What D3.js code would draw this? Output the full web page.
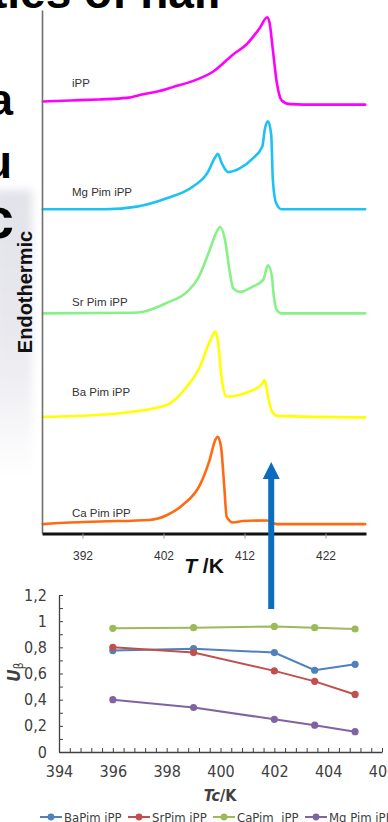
<!DOCTYPE html>
<html><head><meta charset="utf-8">
<script src="https://cdn.jsdelivr.net/npm/d3@7"></script>
<style>html,body{margin:0;padding:0;background:#fff;} svg{display:block;}</style>
</head><body>
<svg id="c" width="388" height="822"></svg>
<script>
// ---------- DSC curves (T in K, heat-flow signal in a.u.) ----------
const samples = ["iPP", "Mg Pim iPP", "Sr Pim iPP", "Ba Pim iPP", "Ca Pim iPP"];
const dscColors = ["#ff00ff", "#1cc3f2", "#86f286", "#ffff00", "#ff6a12"];

const T_iPP = [387.1,390.5,394.0,397.5,399.5,401.5,403.2,405.6,408.1,410.6,412.3,413.9,414.8,415.1,415.5,416.0,416.6,417.6,421.0,426.9];
const S_iPP = [82.5,82.7,82.9,83.2,83.9,84.5,85.3,86.4,88.2,91.5,93.5,96.6,98.6,97.5,92.4,86.0,82.7,82.0,81.9,81.9];

const T_Mg = [387.1,394.8,398.7,402.4,405.6,407.4,408.4,408.7,409.2,410.0,411.4,413.0,414.2,414.5,414.9,415.3,415.5,415.9,416.6,426.9];
const S_Mg = [61.9,61.9,62.4,64.0,66.2,68.8,71.9,72.5,70.7,69.0,69.7,71.6,73.9,77.1,78.7,76.1,67.5,63.1,61.9,61.9];

const T_Sr = [387.1,398.2,399.5,402.4,404.9,406.3,407.7,408.5,409.0,409.6,410.2,410.6,411.4,413.0,414.3,414.9,415.4,415.5,416.0,416.6,426.9];
const S_Sr = [42.0,42.1,42.3,44.0,46.1,48.8,54.1,57.4,58.5,56.0,49.7,46.8,46.1,47.1,48.4,51.2,49.0,47.1,42.6,42.0,42.0];

const T_Ba = [387.1,394.2,398.2,400.7,402.8,404.9,406.5,407.7,408.4,408.7,409.2,409.8,411.4,413.0,414.2,414.5,414.9,415.4,416.0,426.9];
const S_Ba = [22.2,22.6,23.2,23.8,24.8,28.0,31.8,36.6,38.5,36.9,29.3,26.1,26.4,27.3,28.6,29.3,26.1,23.2,22.4,22.1];

const T_Ca = [387.1,390.5,394.2,400.3,402.4,404.4,406.5,407.7,408.4,408.7,409.1,409.5,409.8,410.6,411.8,414.8,416.0,426.9];
const S_Ca = [1.7,2.0,2.2,2.5,3.4,5.4,9.2,14.0,17.8,18.4,16.5,8.9,3.1,2.0,2.3,2.4,1.7,1.7];

const dscTicks = [392, 402, 412, 422];

// ---------- U_beta vs Tc ----------
const tcValues = [396, 399, 402, 403.5, 405];
const ubBa = [0.775, 0.79, 0.76, 0.625, 0.67];
const ubSr = [0.80, 0.76, 0.62, 0.54, 0.44];
const ubCa = [0.945, 0.95, 0.96, 0.95, 0.94];
const ubMg = [0.40, 0.34, 0.25, 0.205, 0.155];
const ubNames = ["BaPim iPP", "SrPim iPP", "CaPim  iPP", "Mg Pim iPP"];
const ubColors = ["#4f81bd", "#c0504d", "#9bbb59", "#8064a2"];
const tcTicks = [394, 396, 398, 400, 402, 404, 406];
const ubTicks = [0, 0.2, 0.4, 0.6, 0.8, 1, 1.2];

const svg = d3.select("#c");
svg.append("rect").attr("width", 388).attr("height", 822).attr("fill", "#fff");

// ---------- background fragments of the slide ----------
const defs = svg.append("defs");
const blur = defs.append("filter").attr("id", "bl").attr("x", "-50%").attr("y", "-20%").attr("width", "200%").attr("height", "140%");
blur.append("feGaussianBlur").attr("stdDeviation", 4);
const grad = defs.append("linearGradient").attr("id", "gg").attr("x1", 0).attr("y1", 0).attr("x2", 0).attr("y2", 1);
grad.append("stop").attr("offset", "0%").attr("stop-color", "#e2e2ea");
grad.append("stop").attr("offset", "50%").attr("stop-color", "#e8e8ee");
grad.append("stop").attr("offset", "100%").attr("stop-color", "#ffffff");
svg.append("rect").attr("x", -6).attr("y", 190).attr("width", 38).attr("height", 290)
  .attr("fill", "url(#gg)").attr("filter", "url(#bl)");

const big = svg.append("g").attr("font-family", "Liberation Sans, Arial, sans-serif")
  .attr("font-weight", "bold").attr("fill", "#000");
big.append("text").attr("x", 222).attr("y", 7.5).attr("text-anchor", "end").attr("font-size", 46).text("ties of half");
big.append("text").attr("x", 13).attr("y", 115).attr("text-anchor", "end").attr("font-size", 44).text("a");
big.append("text").attr("x", 12).attr("y", 178).attr("text-anchor", "end").attr("font-size", 46).text("u");
big.append("text").attr("x", 14).attr("y", 238).attr("text-anchor", "end").attr("font-size", 58).text("c");

// ---------- DSC chart ----------
const xT = d3.scaleLinear().domain([387, 427]).range([42, 366]);
const yS = d3.scaleLinear().domain([0, 100]).range([533, 10]);

const series = [
  {T: T_iPP, S: S_iPP}, {T: T_Mg, S: S_Mg}, {T: T_Sr, S: S_Sr},
  {T: T_Ba, S: S_Ba}, {T: T_Ca, S: S_Ca}
];
const lineT = d3.line().x(d => xT(d[0])).y(d => yS(d[1])).curve(d3.curveMonotoneX);

const dscG = svg.append("g");
series.forEach((s, i) => {
  dscG.append("path")
    .attr("d", lineT(s.T.map((t, j) => [t, s.S[j]])))
    .attr("fill", "none").attr("stroke", dscColors[i]).attr("stroke-width", 2.6)
    .attr("stroke-linejoin", "round").attr("stroke-linecap", "round");
});

// sample labels (annotation anchors in data units)
const labelLevels = [85.3, 64.5, 43.4, 26.2, 3.1];
dscG.selectAll("text.lab").data(samples).join("text").attr("class", "lab")
  .attr("x", xT(390.7)).attr("y", (d, i) => yS(labelLevels[i]))
  .attr("font-family", "Liberation Sans, Arial, sans-serif").attr("font-size", 11.5)
  .attr("fill", "#333").text(d => d);

// left axis (no ticks)
const yAx = svg.append("g").attr("transform", `translate(${xT(387)},0)`)
  .call(d3.axisLeft(yS).tickValues([]).tickSizeOuter(0));
yAx.select(".domain").attr("stroke", "#707070").attr("stroke-width", 1.6);

// bottom axis
const xAx = svg.append("g").attr("transform", `translate(0,${yS(0) + 0.5})`)
  .call(d3.axisBottom(xT).tickValues(dscTicks).tickSize(5).tickSizeOuter(0).tickPadding(13));
xAx.select(".domain").attr("stroke", "#111").attr("stroke-width", 3);
xAx.selectAll(".tick line").attr("stroke", "#999").attr("stroke-width", 1);
xAx.selectAll(".tick text").attr("font-family", "Liberation Sans, Arial, sans-serif")
  .attr("font-size", 12).attr("fill", "#333");

// axis titles
svg.append("text").attr("transform", `translate(32,292) rotate(-90)`)
  .attr("text-anchor", "middle").attr("font-family", "Liberation Sans, Arial, sans-serif")
  .attr("font-weight", "bold").attr("font-size", 20).attr("fill", "#111").text("Endothermic");
const tk = svg.append("text").attr("x", 204).attr("y", 573).attr("text-anchor", "middle")
  .attr("font-family", "Liberation Sans, Arial, sans-serif").attr("font-weight", "bold")
  .attr("font-size", 21).attr("fill", "#111");
tk.append("tspan").attr("font-style", "italic").text("T");
tk.append("tspan").text(" /K");

// blue arrow annotation
const ax = xT(415.3);
svg.append("line").attr("x1", ax).attr("x2", ax).attr("y1", 609).attr("y2", 476)
  .attr("stroke", "#0b6dbe").attr("stroke-width", 6);
svg.append("path").attr("d", `M${ax},462 L${ax - 8.5},479 L${ax + 8.5},479 Z`).attr("fill", "#0b6dbe");

// ---------- U_beta chart ----------
const fNarrow = "Liberation Sans Narrow, DejaVu Sans Condensed, Arial Narrow, sans-serif";
const xB = d3.scaleLinear().domain([394, 406]).range([59, 382]);
const yB = d3.scaleLinear().domain([0, 1.2]).range([752, 595]);
const comma = d => String(d).replace(".", ",");

const gB = svg.append("g");
// minor ticks
const yMinor = gB.append("g").attr("transform", `translate(${xB(394)},0)`)
  .call(d3.axisRight(yB).tickValues(d3.range(0, 1.2001, 0.1)).tickSize(4).tickFormat("").tickSizeOuter(0));
yMinor.select(".domain").attr("stroke", "#404040").attr("stroke-width", 1.3);
yMinor.selectAll(".tick line").attr("stroke", "#404040");
const xMinor = gB.append("g").attr("transform", `translate(0,${yB(0)})`)
  .call(d3.axisTop(xB).tickValues(d3.range(394, 406.001, 0.4)).tickSize(4).tickFormat("").tickSizeOuter(0));
xMinor.select(".domain").attr("stroke", "#404040").attr("stroke-width", 1.3);
xMinor.selectAll(".tick line").attr("stroke", "#404040");
// labels
const yLab = gB.append("g").attr("transform", `translate(${xB(394)},0)`)
  .call(d3.axisLeft(yB).tickValues(ubTicks).tickSize(0).tickPadding(12).tickFormat(comma));
yLab.select(".domain").remove();
const xLab = gB.append("g").attr("transform", `translate(0,${yB(0)})`)
  .call(d3.axisBottom(xB).tickValues(tcTicks).tickSize(0).tickPadding(13.5));
xLab.select(".domain").remove();
gB.selectAll(".tick text").attr("font-family", fNarrow).attr("font-size", 16).attr("fill", "#404040");

// series
const ubSeries = [ubBa, ubSr, ubCa, ubMg];
const lineB = d3.line().x(d => xB(d[0])).y(d => yB(d[1]));
ubSeries.forEach((vals, i) => {
  const pts = tcValues.map((t, j) => [t, vals[j]]);
  gB.append("path").attr("d", lineB(pts)).attr("fill", "none")
    .attr("stroke", ubColors[i]).attr("stroke-width", 2);
  gB.selectAll(null).data(pts).join("circle")
    .attr("cx", d => xB(d[0])).attr("cy", d => yB(d[1])).attr("r", 3.6)
    .attr("fill", ubColors[i]);
});

// axis titles
const ut = svg.append("text").attr("transform", `translate(20,672) rotate(-90)`)
  .attr("text-anchor", "middle").attr("font-family", fNarrow).attr("font-size", 17)
  .attr("fill", "#404040");
ut.append("tspan").attr("font-style", "italic").attr("font-weight", "bold").text("U");
ut.append("tspan").attr("font-size", 12).attr("dy", 3).text("β");

const tc = svg.append("text").attr("x", 220).attr("y", 801).attr("text-anchor", "middle")
  .attr("font-family", fNarrow).attr("font-weight", "bold").attr("font-size", 16).attr("fill", "#404040");
tc.append("tspan").attr("font-style", "italic").text("Tc");
tc.append("tspan").text("/K");

// legend
const legX = [40, 128, 213, 305];
const leg = svg.append("g");
ubNames.forEach((n, i) => {
  const g = leg.append("g").attr("transform", `translate(${legX[i]},817)`);
  g.append("line").attr("x1", 0).attr("x2", 22).attr("stroke", ubColors[i]).attr("stroke-width", 2);
  g.append("circle").attr("cx", 11).attr("r", 3.4).attr("fill", ubColors[i]);
  g.append("text").attr("x", 24).attr("y", 4.5).attr("font-family", fNarrow).attr("font-size", 13)
    .attr("fill", "#404040").style("white-space", "pre").text(n);
});
</script>
</body></html>
